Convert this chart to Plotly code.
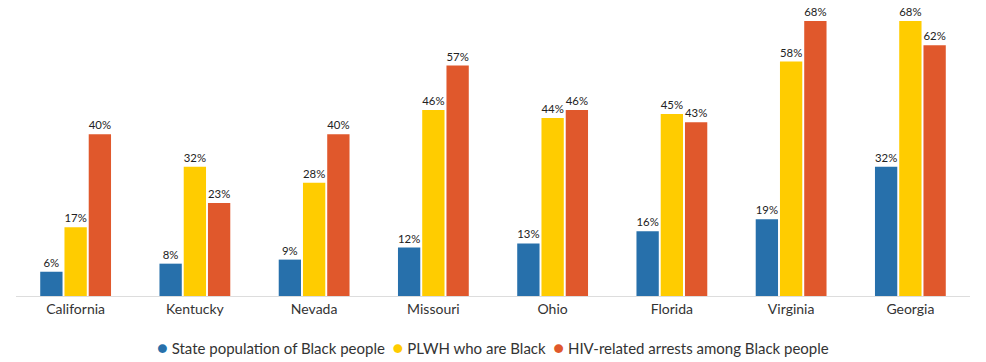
import plotly.graph_objects as go

states = ["California", "Kentucky", "Nevada", "Missouri", "Ohio", "Florida", "Virginia", "Georgia"]
state_pop = [6, 8, 9, 12, 13, 16, 19, 32]
plwh = [17, 32, 28, 46, 44, 45, 58, 68]
arrests = [40, 23, 40, 57, 46, 43, 68, 62]

series = [
    ("State population of Black people", state_pop, "#2770ab"),
    ("PLWH who are Black", plwh, "#ffcc00"),
    ("HIV-related arrests among Black people", arrests, "#e0582c"),
]

fig = go.Figure()
for name, vals, color in series:
    fig.add_trace(go.Bar(
        x=states, y=vals, name=name,
        marker=dict(color=color, line=dict(width=0)),
        text=[f"{v}%" for v in vals], textposition="outside",
        textfont=dict(size=11.5, color="#222222"),
        cliponaxis=False, showlegend=False,
    ))

legend_text = "  ".join(
    f"<span style='color:{c}; font-size:18px'>●</span> {n}" for n, _, c in series
)

W, H = 986, 362
t, b = 13, 0
ph = H - t - b
baseline_px = 296
dom0 = (H - baseline_px) / ph
legend_y = (H - 347) / ph

fig.update_layout(
    width=W, height=H,
    margin=dict(l=16, r=16, t=t, b=b, autoexpand=False),
    paper_bgcolor="white", plot_bgcolor="white",
    barmode="group", bargap=0.39, bargroupgap=0.08,
    font=dict(family="Lato, sans-serif", color="#333333"),
    showlegend=False,
    uniformtext=dict(mode="show", minsize=11),
    annotations=[dict(text=legend_text, x=0.5, y=legend_y, xref="paper", yref="paper",
                      xanchor="center", yanchor="middle", showarrow=False,
                      font=dict(size=15, color="#333333"))],
)
fig.update_xaxes(showline=True, linecolor="#dddddd", linewidth=1, ticks="",
                 tickfont=dict(size=14, color="#333333"), showgrid=False, automargin=False)
fig.update_yaxes(range=[0, 70], visible=False, showgrid=False, zeroline=False,
                 domain=[dom0, 1], automargin=False)

fig.write_html(
    "out.html",
    config={"displayModeBar": False},
    post_script="document.body.style.margin='0';document.body.style.overflow='hidden';",
)
